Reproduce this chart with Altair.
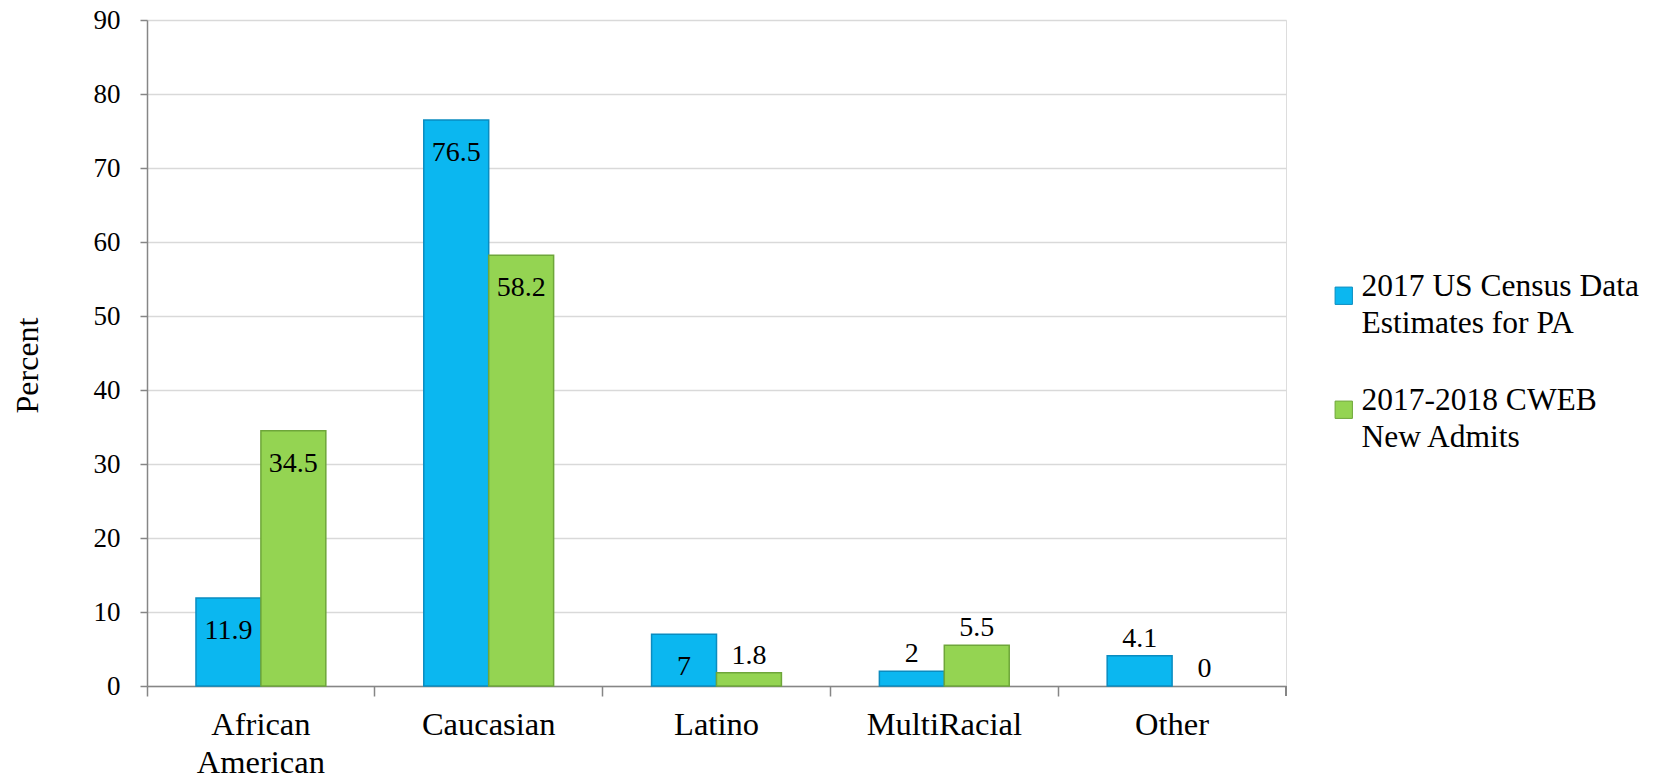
import altair as alt
import pandas as pd

categories = ["African American", "Caucasian", "Latino", "MultiRacial", "Other"]
series_names = ["2017 US Census Data Estimates for PA", "2017-2018 CWEB New Admits"]
legend_lines = {
    "2017 US Census Data Estimates for PA": ["2017 US Census Data", "Estimates for PA"],
    "2017-2018 CWEB New Admits": ["2017-2018 CWEB", "New Admits"],
}
census_values = [11.9, 76.5, 7, 2, 4.1]
cweb_values = [34.5, 58.2, 1.8, 5.5, 0]
y_ticks = [0, 10, 20, 30, 40, 50, 60, 70, 80, 90]

fill_colors = ["#0BB7F0", "#94D452"]
stroke_colors = ["#0A8CC0", "#6EA63A"]

rows = []
for c, v in zip(categories, census_values):
    rows.append({"category": c, "series": series_names[0], "value": v})
for c, v in zip(categories, cweb_values):
    rows.append({"category": c, "series": series_names[1], "value": v})
df = pd.DataFrame(rows)

FONT = "Liberation Serif"
W, H = 1139, 666
INSIDE_MIN = 7

legend_expr = " : ".join(
    [f"datum.label == '{k}' ? {v!r}" for k, v in list(legend_lines.items())[:-1]]
    + [repr(list(legend_lines.values())[-1])]
)

x_enc = alt.X(
    "category:N",
    sort=categories,
    scale=alt.Scale(paddingInner=0.43, paddingOuter=0.215),
    axis=alt.Axis(
        title=None,
        labelAngle=0,
        labelFont=FONT,
        labelFontSize=32.5,
        labelColor="#000000",
        labelPadding=12,
        labelBaseline="top",
        labelLineHeight=38,
        labelExpr="split(datum.label, ' ')",
        tickSize=10,
        tickColor="#868686",
        tickWidth=1.5,
        domainColor="#868686",
        domainWidth=1.5,
        bandPosition=-0.377,
        grid=False,
    ),
)
xoff_enc = alt.XOffset("series:N", sort=series_names)
y_enc = alt.Y(
    "value:Q",
    scale=alt.Scale(domain=[0, 90], nice=False),
    axis=alt.Axis(
        title="Percent",
        titleFont=FONT,
        titleFontSize=32,
        titleFontWeight="normal",
        titleColor="#000000",
        titleAngle=270,
        titleAlign="center",
        titleBaseline="alphabetic",
        titleX=-110,
        titleY=345,
        values=y_ticks,
        labelFont=FONT,
        labelFontSize=27,
        labelColor="#000000",
        labelPadding=20,
        tickSize=7,
        tickColor="#868686",
        tickWidth=1.5,
        domainColor="#868686",
        domainWidth=1.5,
        gridColor="#D9D9D9",
        gridWidth=1.5,
    ),
)

bars = alt.Chart(df).transform_filter("datum.value > 0").mark_bar(strokeWidth=1.5).encode(
    x=x_enc,
    xOffset=xoff_enc,
    y=y_enc,
    color=alt.Color(
        "series:N",
        sort=series_names,
        scale=alt.Scale(domain=series_names, range=fill_colors),
        legend=alt.Legend(
            title=None,
            orient="none",
            legendX=1181,
            legendY=260,
            symbolType="square",
            symbolSize=300,
            symbolStrokeWidth=1,
            symbolStrokeColor="#555555",
            labelFont=FONT,
            labelFontSize=31.5,
            labelColor="#000000",
            labelLimit=500,
            labelBaseline="alphabetic",
            labelOffset=2,
            labelExpr=legend_expr,
            rowPadding=44,
            padding=0,
        ),
    ),
    stroke=alt.Stroke(
        "series:N",
        sort=series_names,
        scale=alt.Scale(domain=series_names, range=stroke_colors),
        legend=None,
    ),
)

inside = alt.Chart(df).transform_filter(f"datum.value >= {INSIDE_MIN}").mark_text(
    baseline="middle", dy=33, font=FONT, fontSize=28, color="#000000"
).encode(
    x=alt.X("category:N", sort=categories),
    xOffset=xoff_enc,
    y=alt.Y("value:Q"),
    text=alt.Text("value:Q", format="~g"),
)

outside = alt.Chart(df).transform_filter(f"datum.value < {INSIDE_MIN}").mark_text(
    baseline="alphabetic", dy=-9, font=FONT, fontSize=28, color="#000000"
).encode(
    x=alt.X("category:N", sort=categories),
    xOffset=xoff_enc,
    y=alt.Y("value:Q"),
    text=alt.Text("value:Q", format="~g"),
)

end_tick = alt.Chart(df).mark_rule(color="#868686", strokeWidth=1.5).encode(
    x=alt.value(W), y=alt.value(H), y2=alt.value(H + 10)
)

chart = (
    alt.layer(bars, inside, outside, end_tick)
    .properties(
        width=W,
        height=H,
        autosize=alt.AutoSizeParams(type="none"),
        padding={"left": 139, "top": 12, "right": 364, "bottom": 89},
    )
    .configure_view(stroke=None)
    .configure(background="white", style={"guide-label": {"lineHeight": 37}})
)

chart.save("out.html", embed_options={"renderer": "svg", "actions": False})
